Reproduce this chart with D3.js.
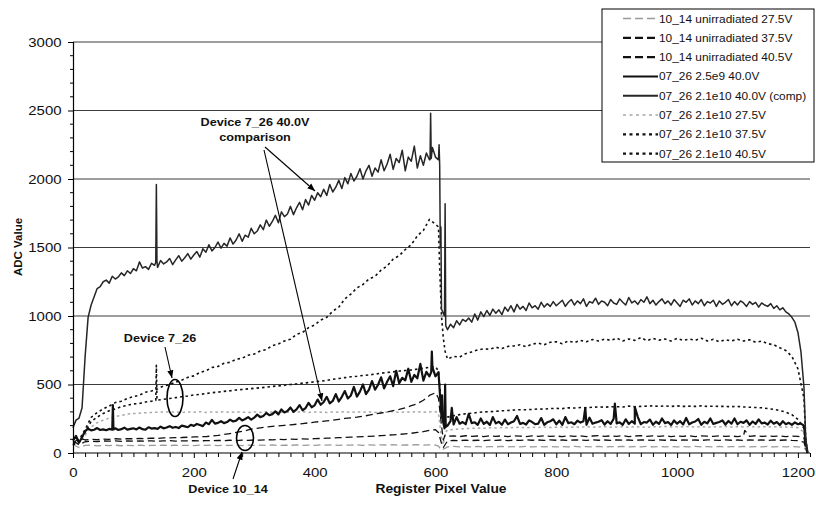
<!DOCTYPE html>
<html><head><meta charset="utf-8">
<script src="https://cdn.jsdelivr.net/npm/d3@7"></script>
<style>body{margin:0;background:#fff}svg{display:block}</style>
</head><body><svg id="chart" width="816" height="508"></svg>
<script>
// ---------- DATA ----------
const seriesNames = [
  "10_14 unirradiated 27.5V", "10_14 unirradiated 37.5V", "10_14 unirradiated 40.5V",
  "07_26 2.5e9 40.0V", "07_26 2.1e10 40.0V (comp)",
  "07_26 2.1e10 27.5V", "07_26 2.1e10 37.5V", "07_26 2.1e10 40.5V"
];
const yTickValues = [0, 500, 1000, 1500, 2000, 2500, 3000];
const xTickLabels = [0, 200, 400, 600, 800, 1000, 1200];
const fineStep = 5;     // register pixel spacing of the "fine" arrays
const coarseStep = 10;  // register pixel spacing of the "coarse" arrays

// 07_26 2.1e10 40.0V (comp) — every 5 pixels, 0..1210
const comp40 = [
 185,240,255,330,700,990,1080,1140,1200,1215,1250,1262,1240,1290,1270,1285,1315,1295,1330,1310,
 1345,1330,1395,1350,1360,1340,1385,1370,1355,1405,1380,1395,1420,1375,1410,1440,1400,1425,1455,1415,
 1445,1470,1430,1490,1465,1520,1475,1500,1540,1495,1530,1510,1570,1525,1555,1600,1545,1590,1575,1640,
 1600,1620,1665,1630,1700,1655,1690,1735,1680,1760,1725,1745,1800,1740,1790,1830,1775,1850,1810,1880,
 1845,1900,1870,1925,1880,1960,1905,1940,1990,1930,2010,1965,2040,1985,2020,2075,2000,2060,2100,2020,
 2080,2050,2140,2060,2110,2180,2070,2150,2120,2210,2060,2160,2130,2240,2080,2170,2100,2190,2140,2230,
 2160,2140,1050,1000,900,940,915,965,935,975,960,985,955,1015,970,1030,995,1040,1005,1050,
 1020,1045,1010,1065,1035,1075,1030,1085,1050,1070,1040,1095,1060,1075,1050,1100,1065,1090,1070,1105,
 1075,1095,1115,1070,1100,1120,1080,1110,1090,1125,1070,1105,1095,1130,1085,1110,1100,1075,1120,1095,
 1085,1125,1100,1080,1135,1095,1110,1085,1120,1100,1140,1090,1115,1080,1105,1125,1090,1110,1080,1120,
 1095,1070,1115,1100,1125,1080,1110,1090,1120,1075,1105,1095,1115,1070,1110,1085,1100,1120,1075,1105,
 1080,1110,1095,1070,1105,1085,1100,1065,1095,1080,1070,1090,1055,1075,1045,1060,1030,1015,990,955,
 880,740,480
];
const comp40Spikes = [[137,1390],[138,1960],[139,1400],[591,2140],[592,2480],[593,2150],
  [606,2250],[607,2100],[608,1500],[609,1650],[616,1820],[617,930],[1213,95],[1216,0]];

// 07_26 2.5e9 40.0V — every 5 pixels, 0..1210
const dev2p5e9 = [
 90,125,75,115,160,178,165,170,182,168,172,166,176,170,180,168,174,185,170,176,
 180,172,186,174,170,188,178,182,176,192,180,186,196,184,190,182,200,194,188,206,
 198,212,204,196,222,210,242,214,220,232,218,226,244,230,236,256,238,248,262,244,
 258,280,262,270,292,276,284,304,282,318,296,306,332,300,318,350,312,328,366,334,
 348,390,352,372,410,362,380,430,376,410,452,398,420,482,412,448,500,430,462,525,
 462,498,552,472,520,560,488,600,510,548,530,615,520,570,545,650,528,592,560,625,
 560,590,260,180,200,232,208,262,214,226,210,285,218,224,206,252,212,228,204,262,
 216,228,206,244,210,222,232,270,212,220,208,238,226,210,214,255,206,224,232,246,
 210,236,206,262,218,224,210,236,222,232,206,258,214,222,228,240,208,232,212,250,
 216,224,206,246,212,232,214,262,210,226,222,244,206,228,212,252,218,226,204,238,
 214,232,208,256,210,222,230,248,206,228,216,252,212,220,226,238,208,234,214,252,
 210,228,220,238,206,230,212,246,216,222,208,236,214,226,204,232,210,220,206,224,
 210,215,200
];
const dev2p5e9Spikes = [[65,175],[66,350],[67,172],[593,590],[594,740],[611,420],[612,240],
  [616,500],[617,190],[627,330],[848,330],[897,360],[930,335],[1213,80],[1216,0]];

// 07_26 2.1e10 40.5V — every 10 pixels, 0..1210
const irr405 = [
 60,95,170,260,295,322,343,368,378,398,
 412,422,444,452,468,490,498,518,532,552,
 563,588,600,624,632,655,662,684,692,714,
 722,745,755,784,796,818,830,866,880,915,
 935,970,990,1035,1065,1125,1160,1205,1230,1270,
 1290,1335,1365,1415,1440,1485,1520,1585,1625,1705,
 1670,1000,685,705,700,725,738,752,760,758,
 772,762,778,782,790,776,795,802,790,808,
 812,798,818,806,822,812,828,818,832,822,
 838,818,832,822,842,820,836,824,832,818,
 836,822,832,822,838,818,830,812,826,818,
 830,818,826,808,816,798,790,768,748,705,
 615,400
];
const irr405Spikes = [[605,1650],[607,1350],[613,840],[616,740],[1213,95],[1216,0]];

// 07_26 2.1e10 37.5V — every 10 pixels, 0..1210
const irr375 = [
 60,85,150,230,262,288,308,322,338,348,
 358,362,372,378,386,392,398,404,410,416,
 424,428,434,440,444,450,454,460,464,468,
 472,476,480,486,490,494,500,504,510,514,
 520,524,530,538,544,550,556,560,566,570,
 576,582,588,592,598,602,606,612,618,626,
 630,330,262,272,280,286,290,296,300,302,
 304,308,310,314,316,316,318,322,320,324,
 326,324,330,328,332,330,334,336,334,338,
 338,336,342,338,340,342,344,340,344,340,
 344,340,342,340,344,340,342,340,340,338,
 340,336,334,332,330,325,318,310,298,280,
 245,180
];
const irr375Spikes = [[137,384],[138,640],[139,385],[605,600],[613,230],[1213,60],[1216,0]];

// 07_26 2.1e10 27.5V — every 10 pixels, 0..1210
const irr275 = [
 50,75,130,190,222,240,255,266,274,284,
 288,290,294,296,298,300,298,300,296,300,
 298,302,296,300,298,302,296,300,298,296,
 300,296,302,298,300,296,300,298,302,296,
 300,298,296,300,298,302,296,300,298,300,
 296,300,298,302,296,300,298,302,298,300,
 302,110,168,172,176,178,180,182,180,184,
 182,186,184,186,188,184,188,186,190,186,
 188,190,186,190,188,192,188,190,192,188,
 190,192,188,192,190,188,192,190,194,190,
 192,190,194,190,192,188,192,190,194,190,
 192,190,194,190,192,190,192,190,190,188,
 185,150
];
const irr275Spikes = [[605,290],[613,60],[616,150],[1213,50],[1216,0]];

// 10_14 unirradiated 40.5V — every 10 pixels, 0..1210
const unirr405 = [
 70,110,95,100,98,102,100,104,102,105,
 104,106,105,108,107,110,110,112,113,115,
 117,118,120,124,128,135,142,150,158,168,
 178,184,189,194,198,202,206,210,215,220,
 225,230,235,240,246,252,257,262,268,276,
 285,292,300,310,318,330,345,360,385,420,
 440,200,122,125,120,126,122,124,120,126,
 122,125,120,126,123,120,125,122,126,121,
 124,120,126,122,125,120,124,127,121,125,
 122,126,120,124,127,121,125,122,126,120,
 124,122,126,120,125,123,121,126,122,124,
 120,125,122,126,121,124,122,125,120,124,
 122,110
];
const unirr405Spikes = [[605,400],[613,95],[616,130],[1112,165],[1213,40],[1216,0]];

// 10_14 unirradiated 37.5V — every 10 pixels, 0..1210
const unirr375 = [
 90,60,82,86,84,88,86,88,85,88,
 86,88,87,89,86,88,90,87,89,88,
 90,88,91,89,92,90,93,91,94,92,
 95,94,97,96,99,98,101,100,103,102,
 105,106,108,109,112,114,116,118,120,122,
 124,127,130,133,136,140,144,150,156,165,
 170,70,88,92,90,94,91,93,90,94,
 92,95,91,94,92,96,93,95,92,96,
 93,95,92,96,94,92,96,93,95,92,
 96,93,95,92,96,94,92,96,93,95,
 92,96,93,95,92,96,94,92,96,93,
 95,92,96,93,95,92,96,93,95,92,
 90,80
];
const unirr375Spikes = [[605,150],[613,40],[1213,30],[1216,0]];

// 10_14 unirradiated 27.5V — every 10 pixels, 0..1210
const unirr275 = [
 60,40,55,58,52,56,54,57,53,56,
 54,57,53,56,55,58,54,57,55,56,
 54,57,55,58,54,56,55,58,54,57,
 55,58,56,59,55,57,56,59,55,58,
 56,59,57,60,56,58,57,60,56,59,
 57,60,58,61,57,59,58,61,57,60,
 58,20,45,48,44,47,45,48,44,47,
 45,48,44,47,45,48,44,47,45,48,
 44,47,45,48,44,47,45,48,44,47,
 45,48,44,47,45,48,44,47,45,48,
 44,47,45,48,44,47,45,48,44,47,
 45,48,44,47,45,48,44,47,45,48,
 44,40
];
const unirr275Spikes = [[605,50],[1213,20],[1216,0]];

// ---------- CHART ----------
const FONT = "'Liberation Sans', Arial, Helvetica, sans-serif";
const SX = 1.15; // horizontal stretch of the reference's lettering
const svg = d3.select("#chart");
svg.append("rect").attr("width", 816).attr("height", 508).attr("fill", "#fff");

const x = d3.scaleLinear().domain([0, 1220]).range([73, 810]);
const y = d3.scaleLinear().domain([0, 3000]).range([453, 42]);

function build(values, step, extras) {
  return values.map((v, i) => [i * step, v]).concat(extras).sort((a, b) => a[0] - b[0]);
}
const series = [
  {name: seriesNames[0], pts: build(unirr275, coarseStep, unirr275Spikes), stroke: "#9a9a9a", w: 1.3, dash: "7,4", lw: 1.6},
  {name: seriesNames[1], pts: build(unirr375, coarseStep, unirr375Spikes), stroke: "#111", w: 1.3, dash: "7,4", lw: 2.2},
  {name: seriesNames[2], pts: build(unirr405, coarseStep, unirr405Spikes), stroke: "#111", w: 1.3, dash: "7,4", lw: 2.2},
  {name: seriesNames[3], pts: build(dev2p5e9, fineStep, dev2p5e9Spikes), stroke: "#111", w: 2.2, dash: null, lw: 2},
  {name: seriesNames[4], pts: build(comp40, fineStep, comp40Spikes), stroke: "#262626", w: 1.5, dash: null, lw: 2},
  {name: seriesNames[5], pts: build(irr275, coarseStep, irr275Spikes), stroke: "#a8a8a8", w: 1.5, dash: "2.5,3", lw: 1.6},
  {name: seriesNames[6], pts: build(irr375, coarseStep, irr375Spikes), stroke: "#111", w: 1.6, dash: "2.5,3", lw: 2.2},
  {name: seriesNames[7], pts: build(irr405, coarseStep, irr405Spikes), stroke: "#111", w: 1.6, dash: "2.5,3", lw: 2.2}
];

// gridlines
svg.append("g").selectAll("line").data(yTickValues.filter(v => v > 0)).join("line")
  .attr("x1", 73).attr("x2", 810).attr("y1", d => y(d)).attr("y2", d => y(d))
  .attr("stroke", "#3c3c3c").attr("stroke-width", 1.1);

// lines
const line = d3.line().x(d => x(d[0])).y(d => y(d[1]));
const drawOrder = [0, 5, 1, 2, 6, 7, 3, 4];
svg.append("g").selectAll("path").data(drawOrder.map(i => series[i])).join("path")
  .attr("d", d => line(d.pts)).attr("fill", "none")
  .attr("stroke", d => d.stroke).attr("stroke-width", d => d.w)
  .attr("stroke-dasharray", d => d.dash).attr("stroke-linejoin", "round");

// y axis
const yMinor = d3.range(0, 3001, 100);
const yAxis = svg.append("g").attr("transform", "translate(73,0)")
  .call(d3.axisLeft(y).tickValues(yTickValues).tickSize(5).tickPadding(5).tickFormat(d3.format("d")));
yAxis.select(".domain").attr("stroke", "#000").attr("stroke-width", 1.2);
yAxis.selectAll(".tick line").attr("stroke", "#000");
yAxis.selectAll("text").attr("font-family", FONT).attr("font-size", 13).attr("fill", "#111")
  .attr("transform", `scale(${SX},1)`);
svg.append("g").selectAll("line").data(yMinor.filter(v => v % 500 !== 0)).join("line")
  .attr("x1", 70).attr("x2", 73).attr("y1", d => y(d)).attr("y2", d => y(d)).attr("stroke", "#000");

// x axis
const xAxis = svg.append("g").attr("transform", "translate(0,453)")
  .call(d3.axisBottom(x).tickValues(d3.range(0, 1221, 20)).tickSize(4).tickPadding(11)
    .tickFormat(d => xTickLabels.includes(d) ? d : ""));
xAxis.select(".domain").attr("stroke", "#000").attr("stroke-width", 1.2).attr("d", "M73,0H810");
xAxis.selectAll(".tick line").attr("stroke", "#000").attr("y2", d => d % 200 === 0 ? 5 : 4);
xAxis.selectAll("text").attr("font-family", FONT).attr("font-size", 13).attr("fill", "#111")
  .attr("transform", `scale(${SX},1)`);

// axis titles
function label(txt, px, py, size, weight, anchor) {
  return svg.append("text").attr("transform", `translate(${px},${py}) scale(${SX},1)`)
    .attr("font-family", FONT).attr("font-size", size).attr("font-weight", weight)
    .attr("text-anchor", anchor || "middle").attr("fill", "#111").text(txt);
}
label("Register Pixel Value", 441, 493, 12, "bold");
svg.append("text").attr("transform", "translate(22,247) rotate(-90)")
  .attr("font-family", FONT).attr("font-size", 11.5).attr("font-weight", "bold")
  .attr("text-anchor", "middle").attr("fill", "#111").text("ADC Value");

// annotations
const defs = svg.append("defs");
defs.append("marker").attr("id", "ah").attr("viewBox", "0 0 10 10").attr("refX", 10).attr("refY", 5)
  .attr("markerWidth", 7).attr("markerHeight", 7).attr("orient", "auto-start-reverse")
  .append("path").attr("d", "M0,1L10,5L0,9z").attr("fill", "#000");
function arrow(x1, y1, x2, y2) {
  svg.append("line").attr("x1", x1).attr("y1", y1).attr("x2", x2).attr("y2", y2)
    .attr("stroke", "#000").attr("stroke-width", 1.1).attr("marker-end", "url(#ah)");
}
label("Device 7_26 40.0V", 255, 126, 11, "bold");
label("comparison", 255, 141, 11, "bold");
arrow(265, 147, 315, 191);
arrow(264, 150, 322, 401);
label("Device 7_26", 160, 342, 11, "bold");
arrow(165, 347, 172, 378);
svg.append("ellipse").attr("cx", 175).attr("cy", 398).attr("rx", 8).attr("ry", 18.5)
  .attr("fill", "none").attr("stroke", "#000").attr("stroke-width", 1.6);
label("Device 10_14", 228, 493, 11, "bold");
arrow(233, 479, 242, 452);
svg.append("ellipse").attr("cx", 245).attr("cy", 438).attr("rx", 8.5).attr("ry", 12.5)
  .attr("fill", "none").attr("stroke", "#000").attr("stroke-width", 1.6);

// legend
const lg = svg.append("g");
lg.append("rect").attr("x", 602).attr("y", 9).attr("width", 212).attr("height", 153)
  .attr("fill", "#fff").attr("stroke", "#000").attr("stroke-width", 1);
const items = lg.selectAll("g.item").data(series).join("g").attr("class", "item")
  .attr("transform", (d, i) => `translate(0,${18.5 + i * 19.3})`);
items.append("line").attr("x1", 623).attr("x2", 658).attr("y1", 0).attr("y2", 0)
  .attr("stroke", d => d.stroke).attr("stroke-width", d => d.lw).attr("stroke-dasharray", d => d.dash ? (d.dash === "7,4" ? "8,4" : "3,3.5") : null);
items.append("text").attr("transform", "translate(659,4) scale(1.08,1)")
  .attr("font-family", FONT).attr("font-size", 11).attr("fill", "#111").text(d => d.name);
</script>
</body></html>
